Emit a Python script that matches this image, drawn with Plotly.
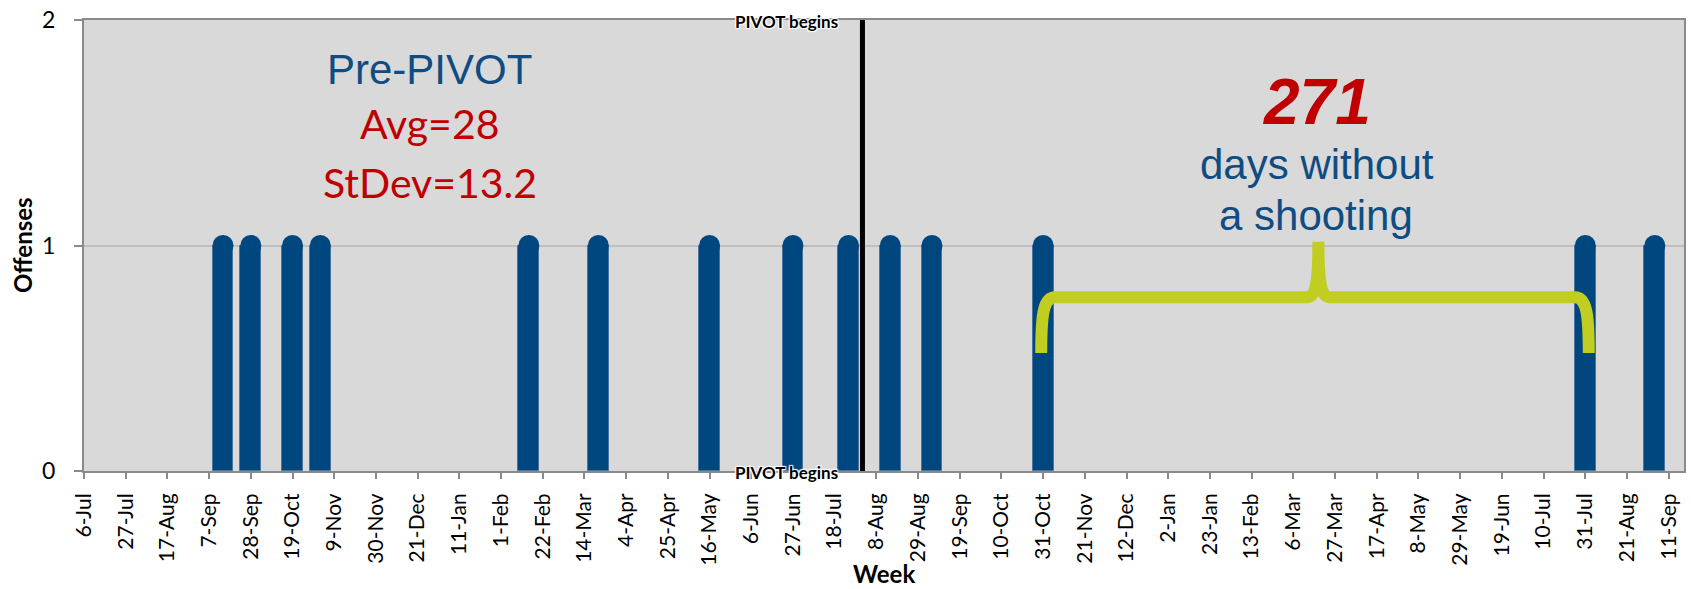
import pandas as pd
import plotly.graph_objects as go

# ---- data -------------------------------------------------------------
SERIES_START = "2015-07-06"          # first weekly bucket (Monday)
TICK_STEP_WEEKS = 3
TICK_LABELS = [
    "6-Jul", "27-Jul", "17-Aug", "7-Sep", "28-Sep", "19-Oct", "9-Nov",
    "30-Nov", "21-Dec", "11-Jan", "1-Feb", "22-Feb", "14-Mar", "4-Apr",
    "25-Apr", "16-May", "6-Jun", "27-Jun", "18-Jul", "8-Aug", "29-Aug",
    "19-Sep", "10-Oct", "31-Oct", "21-Nov", "12-Dec", "2-Jan", "23-Jan",
    "13-Feb", "6-Mar", "27-Mar", "17-Apr", "8-May", "29-May", "19-Jun",
    "10-Jul", "31-Jul", "21-Aug", "11-Sep",
]
OFFENSE_WEEKS = [
    "2015-09-14", "2015-09-28", "2015-10-19", "2015-11-02", "2016-02-15",
    "2016-03-21", "2016-05-16", "2016-06-27", "2016-07-25", "2016-08-15",
    "2016-09-05", "2016-10-31", "2017-07-31", "2017-09-04",
]
OFFENSES = [1, 1, 1, 1, 1, 1, 1, 1, 1, 1, 1, 1, 1, 1]
PIVOT_START = "2016-08-01"
GAP_FROM = "2016-10-31"
GAP_TO = "2017-07-31"

# ---- styling ----------------------------------------------------------
BAR_BLUE = "#00467f"
TEXT_BLUE = "#0e4c82"
RED = "#c00000"
BRACE = "#c1cd21"
AXIS_GREY = "#8a8a8a"
CAL = "Lato"
ARIAL = "Liberation Sans"

W, H = 1691, 589
ML, MR, MT, MB = 84, 5, 19, 118
PW, PH = W - ML - MR, H - MT - MB
X_MAX = 115.1

start = pd.Timestamp(SERIES_START)


def week_index(d):
    return (pd.Timestamp(d) - start).days / 7.0


weeks = [week_index(d) for d in OFFENSE_WEEKS]
tick_vals = [i * TICK_STEP_WEEKS for i in range(len(TICK_LABELS))]
pivot_w = week_index(PIVOT_START)
gap_a, gap_b = week_index(GAP_FROM), week_index(GAP_TO)

fig = go.Figure()

fig.add_trace(go.Bar(
    x=weeks, y=OFFENSES, width=1.5,
    marker=dict(color=BAR_BLUE, line=dict(color="#4a74a0", width=1)),
    hoverinfo="skip", showlegend=False,
))
# rounded caps on top of each bar
fig.add_trace(go.Scatter(
    x=weeks, y=OFFENSES, mode="markers",
    marker=dict(symbol="circle", size=21, color=BAR_BLUE, line=dict(width=0)),
    hoverinfo="skip", showlegend=False,
))


def paper(xp, yp):
    return (xp - ML) / PW, (MT + PH - yp) / PH


def label(text, xp, yp, family, size, color, weight="normal", style="normal"):
    x, y = paper(xp, yp)
    fig.add_annotation(
        text=text, x=x, y=y, xref="paper", yref="paper",
        xanchor="center", yanchor="middle", showarrow=False,
        font=dict(family=family, size=size, color=color, weight=weight, style=style),
    )


label("Pre-PIVOT", 430, 68.4, ARIAL, 42, TEXT_BLUE)
label("Avg=28", 430, 122.5, CAL, 41, RED)
label("StDev=13.2", 430, 181.5, CAL, 41, RED)
label("271", 1319, 100.8, ARIAL, 64, RED, weight="bold", style="italic")
label("days without", 1318.5, 163.4, ARIAL, 42, TEXT_BLUE)
label("a shooting", 1318, 215.4, ARIAL, 42, TEXT_BLUE)

# pivot marker
fig.add_shape(type="line", xref="x", yref="paper", x0=pivot_w, x1=pivot_w,
              y0=0, y1=1, line=dict(color="black", width=5), layer="above")
halo = "1px 1px 1px white, -1px -1px 1px white, 1px -1px 1px white, -1px 1px 1px white"
for yy, ys in ((1, -1.5), (0, -1)):
    fig.add_annotation(
        text="PIVOT begins", x=pivot_w, y=yy, xref="x", yref="paper",
        xanchor="right", yanchor="middle", xshift=-22, yshift=ys, showarrow=False,
        font=dict(family=CAL, size=17, color="black", weight="bold", shadow=halo),
    )

# brace spanning the gap between offenses
mid = (gap_a + gap_b) / 2 + 0.3
l0, r0 = gap_a - 0.14, gap_b + 0.25
yb, yh, yt = 0.523, 0.771, 1.017
path = (
    f"M {l0},{yb} C {l0},{yb + 0.17} {l0 + 0.15},{yh} {l0 + 1.0},{yh} "
    f"L {mid - 0.8},{yh} C {mid - 0.2},{yh} {mid},{yh + 0.06} {mid},{yt} "
    f"C {mid},{yh + 0.06} {mid + 0.2},{yh} {mid + 0.8},{yh} "
    f"L {r0 - 1.0},{yh} C {r0 - 0.15},{yh} {r0},{yb + 0.17} {r0},{yb}"
)
fig.add_shape(type="path", xref="x", yref="y", path=path,
              line=dict(color=BRACE, width=12), layer="above")

# axis titles
fig.add_annotation(text="Offenses", x=0, y=0.5, xref="paper", yref="paper",
                   xanchor="center", yanchor="middle", xshift=-61.5, textangle=-90,
                   showarrow=False,
                   font=dict(family=CAL, size=24, color="black", weight="bold"))
fig.add_annotation(text="Week", x=0.5, y=0, xref="paper", yref="paper",
                   xanchor="center", yanchor="middle", yshift=-102, showarrow=False,
                   font=dict(family=CAL, size=24, color="black", weight="bold"))

fig.update_layout(
    width=W, height=H,
    margin=dict(l=ML, r=MR, t=MT, b=MB, pad=0),
    paper_bgcolor="white", plot_bgcolor="#d9d9d9",
    bargap=0, showlegend=False,
)
fig.update_xaxes(
    range=[0, X_MAX], tickmode="array", tickvals=tick_vals, ticktext=TICK_LABELS,
    tickangle=-90, ticks="outside", ticklen=6, tickwidth=2, tickcolor=AXIS_GREY,
    ticklabelstandoff=6,
    showline=True, linecolor=AXIS_GREY, linewidth=2, mirror=True,
    showgrid=False, zeroline=False,
    tickfont=dict(family=CAL, size=21, color="black"),
)
fig.update_yaxes(
    range=[0, 2], tickmode="array", tickvals=[0, 1, 2],
    ticks="outside", ticklen=8, tickwidth=2, tickcolor=AXIS_GREY,
    ticklabelstandoff=14,
    showline=True, linecolor=AXIS_GREY, linewidth=2, mirror=True,
    showgrid=True, gridcolor="#bfbfbf", gridwidth=2, zeroline=False,
    tickfont=dict(family=CAL, size=23, color="black"),
)

fig.write_html("out.html")
